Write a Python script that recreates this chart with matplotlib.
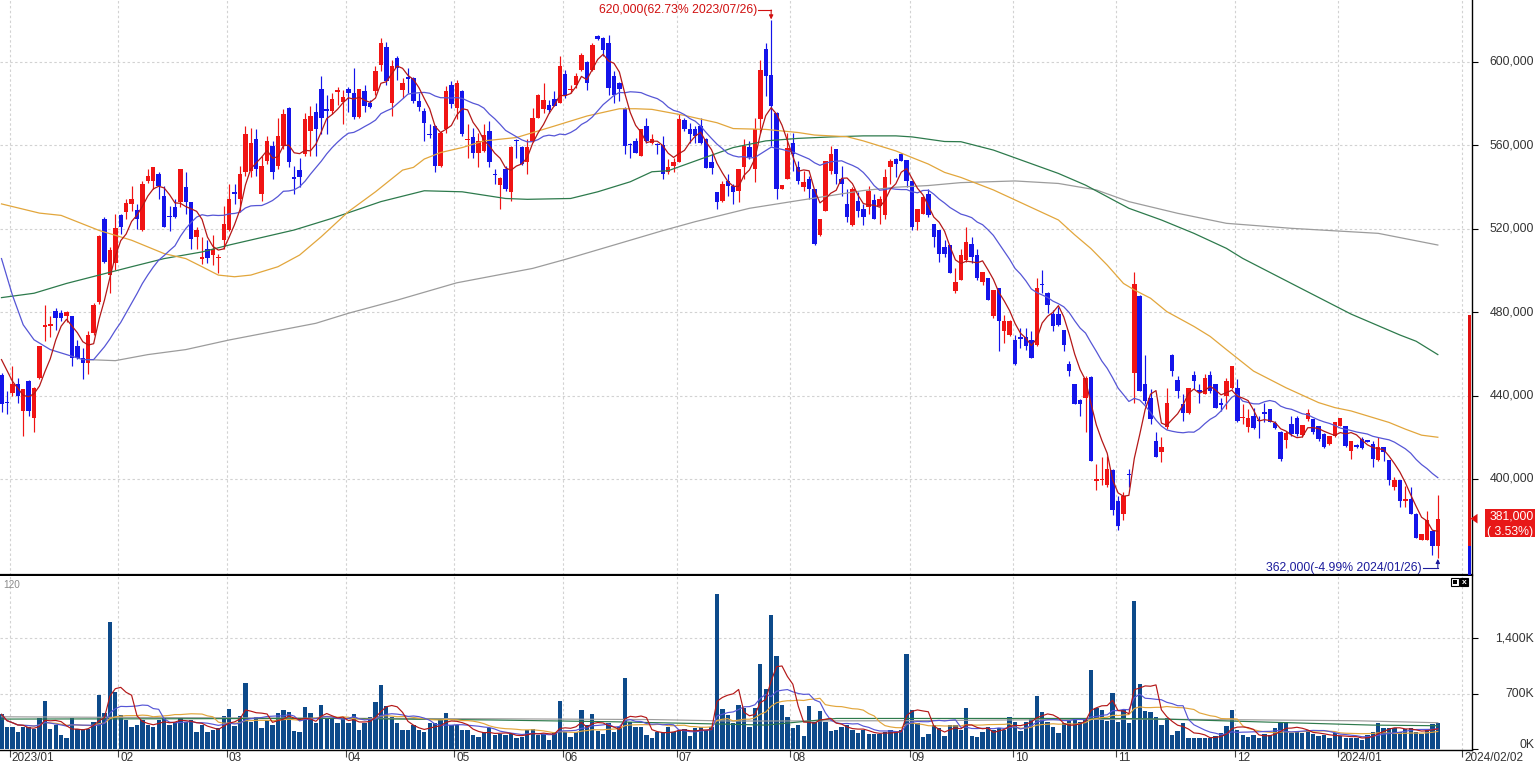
import numpy as np
import pandas as pd
import matplotlib
matplotlib.use('Agg')
import matplotlib.pyplot as plt
from matplotlib import font_manager as fm
from matplotlib.patches import Rectangle, Polygon
from matplotlib.transforms import blended_transform_factory, offset_copy

# ---------------- data (prices in thousand KRW, volume in K shares) ----------------
open_ = [
450, 437, 441.3, 445.3, 432.6, 446.9, 429.4, 448.5, 473, 473.5,
480.6, 479.5, 477.9, 477.9, 463.6, 458, 455.6, 469.9, 485, 524.7,
497.7, 503.3, 526.3, 527.9, 531.8, 529.1, 519.1, 543, 543, 546.1,
535.8, 525.5, 530.2, 532.6, 539.8, 532.6, 515.9, 505.6, 510, 507.2,
505.8, 514.4, 519.1, 537.4, 534, 546.9, 547.7, 562.8, 536.6, 552.5,
559.6, 550.1, 559.6, 577.9, 544.5, 548, 555.6, 566.7, 575.9, 586.9,
577, 576.3, 585.5, 580.7, 586.9, 585, 573.4, 586.1, 580.2, 585.8,
598.5, 607.2, 580.2, 601.7, 586.6, 592.5, 592.1, 581, 576.3, 565.5,
569.1, 550.1, 567.5, 588.6, 577.9, 586.1, 562.2, 564, 556.4, 557.2,
566.7, 546.2, 540.9, 548.5, 537.4, 562.2, 559.3, 551.7, 562, 573.1,
577.1, 579, 582.2, 580.2, 594, 586.3, 589, 596.1, 599.6, 596.1,
612.3, 611.2, 608.8, 592.9, 589.8, 577.9, 560.5, 562, 554.8, 569.1,
561.2, 560.3, 559.9, 546.9, 550.1, 551.7, 572, 567.8, 567.8, 569.1,
563.1, 552, 537.4, 533.4, 542.9, 540.6, 538.2, 549.3, 559.1, 548.5,
572.3, 606.1, 593.7, 575.5, 539, 543.7, 561.2, 549.3, 539.8, 543.7,
539, 516.7, 528.6, 547.7, 558, 543.7, 531.8, 521.5, 533.4, 529.4,
530.2, 533.7, 531, 526.3, 549.3, 553.2, 555.6, 552.8, 542.9, 523.1,
527, 536.6, 522.3, 519.1, 511.2, 512, 490, 495.3, 504.8, 512.8,
507.2, 494.5, 496.4, 477.9, 491.4, 470.7, 469.1, 466.8, 467.7, 467.9,
466.8, 464, 493.5, 489.3, 479, 479, 471.5, 455.2, 445.3, 437.7,
439, 448.8, 398.9, 399.4, 396.9, 404.4, 389.3, 383.4, 402.3, 450.9,
487.9, 445.3, 439, 418.3, 412.8, 424.7, 459.6, 447.2, 435.8, 431.8,
449.6, 442.6, 440.6, 449.6, 445.3, 436.6, 439.8, 443.7, 443.7, 429,
424.7, 430.2, 428.2, 431.9, 433.4, 426.6, 422.3, 418.8, 426.3, 429.1,
421.2, 428.6, 428.6, 425.5, 421.5, 416.7, 420.7, 425.5, 425.5, 413.6,
416.4, 419.1, 418.5, 416.7, 409.1, 415.2, 409.1, 396.1, 399.6, 389.6,
390.6, 383.4, 370.7, 371, 375.2, 368.1]

high = [
451, 442, 454, 448.5, 443, 447.5, 444, 463.8, 483.4, 478,
481.8, 481, 480.5, 478, 466.7, 462.8, 470.7, 484.2, 516.7, 525.4,
511.2, 527, 527, 534.2, 540.6, 531.8, 543, 548.5, 549.5, 547,
540.6, 531, 534.2, 548.5, 546.9, 532.6, 520.7, 516, 514.4, 516.7,
508, 531, 541.4, 541.4, 550, 569.1, 568.3, 567.5, 554.8, 564.4,
562, 573.1, 577.1, 578, 550, 554, 575.5, 578.7, 580.2, 592.9,
584, 585, 588, 586.6, 588, 596.9, 586.9, 589, 581.8, 597.7,
611.5, 609.6, 600.9, 602.5, 592.2, 596.9, 592.5, 585, 577.9, 570,
569.5, 566.7, 588.2, 590.6, 591.4, 586.5, 570, 568.3, 566, 569.9,
571.5, 548.5, 544.5, 550, 559.5, 562.8, 559.6, 562.8, 577.9, 584.5,
589.8, 581.8, 585.8, 602.5, 596.1, 589, 594.5, 604.1, 600.1, 608.8,
612.8, 612, 612.8, 595.3, 590, 578, 561.2, 563.6, 567.8, 573,
565.2, 561.2, 564.4, 553.2, 554, 574.7, 573.1, 570.7, 569.1, 573,
563.2, 555.6, 537.5, 542.9, 546.1, 541.4, 548.6, 562.8, 562, 573.1,
600.9, 608.8, 620, 575.6, 541, 565.9, 565.9, 552.5, 547.7, 545.3,
539.1, 524.8, 552.5, 559.6, 558.1, 550.1, 538.9, 539.7, 537.4, 531.8,
540.6, 536.6, 535.8, 548.5, 553.2, 554, 556.4, 552.9, 543, 529.5,
535.8, 538.9, 522.4, 519.2, 514.4, 512.1, 501, 510.4, 520.7, 515.9,
510.4, 499.3, 496.5, 490.6, 491.5, 478.7, 476.3, 469.1, 472.3, 472.3,
470.7, 496.1, 500.1, 489.4, 481, 482.6, 471.6, 456.4, 445.4, 438.2,
449.3, 449.3, 407.2, 410.4, 411.2, 404.8, 391.7, 393.7, 404.8, 499.3,
488, 459.6, 442.9, 422.3, 419.9, 443.7, 459.7, 449.3, 440.6, 443.4,
451.7, 445.3, 450.1, 451.7, 445.4, 439, 448.5, 454, 447.7, 435.8,
433.4, 434.2, 430.2, 436.6, 433.5, 427.9, 423.1, 423.1, 430.2, 430.2,
426, 433.4, 428.7, 425.6, 421.8, 420.7, 427.1, 429.1, 425.6, 418.4,
416.7, 419.9, 418.8, 418.3, 419.9, 415.5, 409.2, 400.9, 399.7, 396.6,
396.1, 383.5, 373.6, 384.7, 375.3, 392.1]

low = [
432, 431, 440, 436.6, 420.7, 430, 422.3, 448, 466, 468,
471.5, 475.5, 475, 454, 457.5, 447.7, 450.1, 469, 484, 503.3,
489, 500.1, 517.5, 524.7, 528.6, 519.9, 519, 542, 539, 534.2,
520.7, 519, 525, 530.2, 527, 510.4, 510.4, 503, 503.3, 502.5,
498.5, 510, 519, 531.8, 528, 545, 544.5, 545.3, 533.4, 550.9,
543.7, 548.5, 558, 549.3, 536.6, 539.8, 554.8, 554.8, 554.8, 565.2,
565.2, 574.7, 579.4, 569.9, 576, 572.3, 573, 576, 577.9, 584,
595.3, 589, 573.9, 591.4, 582.6, 585, 580, 576.3, 562, 563.5,
546.9, 549.3, 566, 577.9, 572.3, 564.4, 554, 554, 549.3, 556.5,
549.3, 541.4, 529.4, 538.2, 533.4, 554, 550.5, 546.1, 561.5, 572.8,
575.5, 575.5, 578.5, 580, 582.6, 585, 587.4, 595.3, 586.6, 595.3,
610.4, 602.5, 584.2, 580.2, 581, 555.6, 554, 556.4, 554.8, 561.2,
560.4, 555.6, 543.7, 546.1, 546.9, 551.7, 566.7, 561.2, 561.2, 560.4,
549, 546.1, 529.4, 532.9, 535.8, 531.8, 532.6, 543.7, 553.2, 542.1,
565.9, 583.4, 559.6, 534.2, 538.8, 543.5, 547.7, 541.4, 538.2, 534.2,
512, 516.6, 528.5, 546.1, 541.4, 535.8, 523.1, 521.4, 525.5, 521.5,
527, 524.7, 522.3, 524.7, 541.4, 544.5, 552.4, 539.8, 519.1, 519.1,
526.9, 525.5, 511.2, 504.1, 506.4, 498.5, 489, 495.2, 504, 503.3,
495.3, 492.9, 485.8, 477.1, 461.2, 465.2, 468.3, 454.8, 462.8, 462,
458, 463.9, 489, 479.5, 470.7, 473.1, 461.2, 449.3, 436.1, 430.2,
422.3, 408.8, 394.5, 396.9, 396.1, 382.6, 375.5, 380.2, 396.1, 436.6,
442.1, 435.8, 426.3, 410.4, 408, 423.9, 449.3, 439, 427.9, 431,
442.9, 436.6, 440.5, 441.4, 434.2, 432.6, 433.4, 442.9, 427.1, 426.3,
422.3, 423.9, 419.6, 427.1, 427.1, 423.9, 408.8, 414.8, 420.7, 420.7,
419.9, 427.9, 421.5, 418.3, 414.8, 416.4, 419.9, 425.4, 415.2, 409.6,
414.8, 414.4, 417.5, 405.6, 408.8, 408.8, 396.9, 394.5, 386.6, 386.6,
383.4, 371.5, 370.6, 371, 363.5, 362]

close = [
436, 436.5, 445.3, 439.8, 442.9, 432.6, 443.7, 463.6, 474, 474.2,
477.1, 477.1, 480.2, 458, 458, 455.6, 469.1, 483.4, 516.4, 504.1,
509.6, 520.2, 520.7, 532.3, 534.2, 524.7, 541.4, 545.3, 549.3, 540.6,
520.7, 525.3, 525.5, 548.5, 532.6, 515.2, 519.4, 506.3, 506, 510.4,
506.3, 522.3, 534.2, 536.4, 546.1, 565.2, 561.2, 548.5, 550.1, 562,
546.9, 564.4, 575, 551.7, 543.5, 544.8, 572.3, 573.9, 567.5, 573.1,
576.5, 582.3, 586.3, 583.1, 585, 573.4, 586.9, 578.7, 578.3, 595.3,
608.8, 590.6, 597.7, 596.9, 589.8, 591.8, 581, 578.3, 570.7, 564.9,
550.1, 566, 586.1, 579.8, 589.8, 565.5, 563, 556.4, 562, 564.8,
551.7, 545.8, 544, 539, 559.1, 561.8, 550.9, 559.3, 573.1, 584.2,
581.8, 576.7, 578.7, 597.7, 583.4, 586.8, 593.3, 603.3, 589.8, 608,
610.7, 605.6, 587.4, 584.2, 586.9, 559.6, 560, 556.4, 567.8, 562,
563.1, 559.9, 546.1, 549.3, 552, 572.3, 567.5, 565.2, 564.4, 561.2,
549, 549, 532.9, 541.4, 540.6, 537.4, 548.5, 559.6, 554.4, 567.5,
596.1, 592.9, 578.6, 539, 541, 558.8, 555.6, 542.9, 542.1, 539,
512.8, 524.7, 552.5, 555.6, 546.1, 541.4, 525.5, 538.9, 528.6, 525.5,
538.2, 524.7, 534.2, 544.8, 552.5, 550.9, 552.5, 542.9, 520.7, 529.4,
535.3, 526.3, 515.9, 508, 508, 498.5, 494.5, 507.2, 513.6, 506.4,
496.1, 499.3, 485.8, 490.6, 475.5, 475.5, 475.8, 455.2, 467.3, 463.6,
458, 491.7, 493.1, 483.4, 473.1, 473.9, 464.4, 451.7, 436.1, 436.1,
448.5, 408.8, 399.8, 399.8, 404.8, 385, 377.4, 391.7, 401.9, 493.3,
442.1, 437.4, 428.6, 410.4, 415.5, 436.6, 451.7, 442.1, 431.4, 443.4,
446.9, 441.6, 448.2, 442.1, 434.2, 435.5, 446.9, 454, 427.9, 429.6,
429.4, 424.4, 427.6, 431.2, 427.5, 424.4, 409.6, 422, 421.5, 421.5,
426, 431.8, 422.3, 419.1, 415.2, 420.7, 427.1, 429.1, 416, 418.3,
415.2, 414.8, 417.6, 409.6, 415.5, 412.8, 399.3, 399.6, 389.5, 390.2,
383.4, 371.8, 373.5, 380.5, 368, 381]

volume = [
440, 284, 284, 221, 284, 284, 255, 397, 607, 255,
305, 180, 138, 397, 255, 255, 255, 347, 682, 464,
1604, 724, 431, 368, 284, 305, 368, 305, 284, 368,
410, 305, 347, 397, 347, 368, 221, 305, 221, 242,
263, 422, 506, 297, 422, 833, 347, 406, 272, 368,
305, 460, 494, 473, 234, 213, 532, 460, 326, 557,
381, 389, 326, 381, 335, 439, 242, 326, 410, 594,
808, 540, 410, 326, 242, 242, 305, 242, 221, 326,
326, 368, 460, 305, 305, 242, 242, 180, 159, 221,
263, 180, 188, 180, 188, 146, 159, 242, 251, 180,
188, 117, 221, 607, 221, 159, 213, 494, 305, 444,
230, 188, 326, 221, 284, 900, 347, 284, 284, 180,
146, 221, 221, 284, 221, 242, 255, 171, 263, 284,
242, 284, 1952, 506, 431, 326, 557, 515, 284, 515,
1072, 758, 1688, 1177, 557, 410, 272, 305, 171, 544,
347, 481, 347, 234, 242, 284, 305, 242, 201, 242,
188, 188, 188, 221, 242, 221, 242, 1198, 494, 326,
159, 188, 305, 272, 167, 305, 305, 242, 515, 167,
150, 221, 284, 242, 263, 242, 410, 347, 230, 347,
389, 674, 473, 347, 284, 201, 326, 356, 368, 347,
381, 997, 523, 494, 360, 716, 347, 494, 326, 1876,
820, 481, 473, 410, 305, 389, 180, 234, 326, 146,
146, 146, 146, 146, 167, 201, 293, 494, 242, 180,
159, 180, 146, 188, 180, 263, 347, 347, 201, 230,
201, 242, 188, 167, 180, 138, 201, 167, 146, 146,
138, 117, 180, 221, 326, 272, 272, 263, 221, 255,
272, 213, 188, 242, 314, 335]

# moving-average readings where the chart needs history before the first candle
ma5_head_idx = [0, 2]
ma5_head = [457.2, 446.9]
ma20_head_idx = [0, 2, 4, 6, 9, 12, 15, 17]
ma20_head = [505.6, 488.2, 473.9, 466.7, 462.0, 459.6, 457.2, 457.2]

ma60_idx = [0, 7, 11, 18, 24, 30, 34, 37, 40, 43, 46, 51, 55, 59, 64, 69, 74, 76, 78, 81,
            85, 89, 95, 102, 108, 114, 117, 120, 126, 132, 135, 141, 147, 150, 156, 159, 162, 165, 168, 171,
            174, 177, 183, 189, 195, 198, 201, 204, 207, 209, 212, 215, 220, 223, 226, 231, 237, 243, 246, 249,
            256, 259, 262, 265]
ma60 = [531.8, 527.4, 526.3, 519.1, 514.4, 508, 505.6, 501.7, 497.7, 496.9, 497.7, 501.7, 507.3, 516.1, 528.1, 537.6, 548, 549.3, 553.3, 556.4,
        558.8, 562, 563.6, 569.1, 573.9, 577.4, 577.4, 577.1, 574.2, 570.7, 567.9, 567.5, 566, 564.8, 564, 562, 559.6, 557.2, 554, 550.9,
        546.9, 544.5, 538.5, 531.3, 524.1, 517, 510.4, 502.5, 493.7, 490.6, 486.6, 480.2, 473.1, 468.3, 462, 451.7, 443.7, 436.6, 434.2, 432.6,
        427.1, 423.9, 421, 420]

ma120_idx = [0, 6, 12, 18, 24, 30, 37, 42, 54, 61, 70, 78, 85, 93, 97, 105, 110, 116, 120, 123,
             129, 135, 141, 147, 153, 159, 165, 168, 174, 177, 183, 189, 195, 200, 208, 214, 220, 226, 229, 240,
             249, 258, 261, 265]
ma120 = [486.9, 489, 493.7, 497.7, 501.7, 505.6, 508.8, 512.1, 519.3, 524.9, 532.9, 538.1, 537.6, 534.4, 534, 534.4, 537.6, 542.4, 547.2, 547.7,
         553.3, 558.8, 562, 563.2, 563.9, 564.4, 564.4, 563.9, 561.7, 561.6, 557.6, 552, 546.4, 540.8, 529.7, 524.1, 517.7, 510.5, 505.7, 491,
         479, 469, 466, 459.6]

ma240_idx = [16, 21, 27, 34, 42, 58, 64, 73, 84, 98, 104, 113, 122, 128, 138, 147, 153, 159, 165, 171,
             177, 187, 195, 202, 208, 217, 226, 238, 254, 265]
ma240 = [457.2, 456.7, 459.6, 462, 466.6, 474.6, 479.4, 485.7, 494, 500.9, 505.2, 512.1, 519, 523.3, 529.7, 533.4, 535.8, 538.2, 539.8, 540.6,
         542, 542.8, 541.6, 538.5, 532.9, 527.3, 522.5, 520.1, 517.7, 512.1]

vma60_idx = [0, 30, 60, 90, 113, 135, 141, 154, 180, 206, 215, 230, 253, 265]
vma60 = [381, 385, 390, 370, 347, 315, 305, 389, 389, 389, 380, 350, 305, 297]
vma120_idx = [0, 30, 60, 90, 120, 135, 165, 210, 230, 250, 265]
vma120 = [410, 400, 392, 385, 375, 356, 360, 381, 372, 360, 335]

month_start_idx = [2, 22, 42, 64, 84, 104, 125, 146, 168, 187, 206, 228, 247, 270]
month_labels = ['2023/01', '02', '03', '04', '05', '06', '07', '08', '09', '10', '11', '12', '2024/01', '2024/02/02']
price_ticks = [400, 440, 480, 520, 560, 600]
vol_ticks = [0, 700, 1400]
vol_tick_labels = ['0K', '700K', '1,400K']
hi_date = '2023/07/26'
lo_date = '2024/01/26'
limit_pct = 30

# ---------------- style ----------------
W, H = 1538, 769
RED, BLUE = '#f01414', '#1414ea'
C_MA5, C_MA20, C_MA60, C_MA120, C_MA240 = '#b41818', '#5656d6', '#e2a63c', '#2d7a4c', '#9c9c9c'
VOL_C = '#0d4a8a'
GRID = '#d2d2d2'
TXT = '#333333'

names = {f.name for f in fm.fontManager.ttflist}
if 'Liberation Sans Narrow' in names:
    FONT, FS = 'Liberation Sans Narrow', 1.0
elif 'Liberation Sans' in names:
    FONT, FS = 'Liberation Sans', 0.85
else:
    FONT, FS = 'DejaVu Sans', 0.78
plt.rcParams['font.family'] = [FONT, 'DejaVu Sans']

fig = plt.figure(figsize=(W / 100, H / 100), dpi=100, facecolor='white')


def fx(px):
    return px / W


def fy(py):
    return 1 - py / H


AX_R = 1471.7
ax_p = fig.add_axes([0, fy(575), fx(AX_R), 575 / H])
ax_v = fig.add_axes([0, fy(750), fx(AX_R), (750 - 576) / H])

N = len(close)
idx = np.arange(N)
o = np.array(open_); h = np.array(high); l = np.array(low); c = np.array(close)
vol = np.array(volume, dtype=float)

XL = (-0.277, 271.25)
ax_p.set_xlim(*XL)
ax_v.set_xlim(*XL)
ax_p.set_ylim(354.0, 629.5)
ax_v.set_ylim(-8.8, 2185)

tick_pos = np.array(month_start_idx) - 0.45
dash = (0, (2.2, 2.2))
for ax in (ax_p, ax_v):
    for tp in tick_pos:
        ax.axvline(tp, color=GRID, lw=0.8, ls=dash, zorder=0)
for pt in price_ticks:
    ax_p.axhline(pt, color=GRID, lw=0.8, ls=dash, zorder=0)
for vt in vol_ticks[1:]:
    ax_v.axhline(vt, color=GRID, lw=0.8, ls=dash, zorder=0)

# ---------------- candles ----------------
up = c >= o
cols = np.where(up, RED, BLUE)
ax_p.vlines(idx, l, h, colors=cols, lw=0.85, zorder=2)
body_lo = np.minimum(o, c)
body_h = np.maximum(np.abs(c - o), 0.55)
ax_p.bar(idx, body_h, bottom=body_lo, width=0.82, color=cols, lw=0, zorder=2.1)

# ---------------- moving averages ----------------
cs = pd.Series(c)
m5 = cs.rolling(5).mean().to_numpy()
m20 = cs.rolling(20).mean().to_numpy()
ax_p.plot(ma240_idx, ma240, color=C_MA240, lw=0.9, zorder=3)
ax_p.plot(ma120_idx, ma120, color=C_MA120, lw=0.9, zorder=3)
ax_p.plot(ma60_idx, ma60, color=C_MA60, lw=0.9, zorder=3)
ax_p.plot(list(ma20_head_idx) + list(idx[19:]), list(ma20_head) + list(m20[19:]), color=C_MA20, lw=0.9, zorder=3)
ax_p.plot(list(ma5_head_idx) + list(idx[4:]), list(ma5_head) + list(m5[4:]), color=C_MA5, lw=0.9, zorder=3)

# ---------------- volume ----------------
ax_v.bar(idx, vol, width=0.8, color=VOL_C, lw=0, zorder=2)
vs = pd.Series(vol)
ax_v.plot(vma120_idx, vma120, color=C_MA240, lw=0.85, zorder=3)
ax_v.plot(vma60_idx, vma60, color=C_MA120, lw=0.85, zorder=3)
ax_v.plot(idx, vs.rolling(20, min_periods=1).mean(), color=C_MA60, lw=0.85, zorder=3)
ax_v.plot(idx, vs.rolling(10, min_periods=1).mean(), color=C_MA20, lw=0.85, zorder=3)
ax_v.plot(idx, vs.rolling(5, min_periods=1).mean(), color=C_MA5, lw=0.85, zorder=3)

# ---------------- axes styling ----------------
for ax in (ax_p, ax_v):
    ax.set_facecolor('white')
    ax.spines['left'].set_visible(False)
    ax.spines['right'].set_color('black')
    ax.spines['right'].set_linewidth(1.0)
ax_p.spines['top'].set_visible(False)
ax_p.spines['bottom'].set_color('black')
ax_p.spines['bottom'].set_linewidth(1.6)
ax_v.spines['top'].set_visible(False)
ax_v.spines['bottom'].set_color('black')
ax_v.spines['bottom'].set_linewidth(1.0)

ax_p.tick_params(axis='x', bottom=False, labelbottom=False)
ax_p.yaxis.tick_right()
ax_p.set_yticks(price_ticks)
ax_p.tick_params(axis='y', right=True, left=False, labelright=False, labelleft=False,
                 length=4, width=0.8, color='black', direction='out')
ax_v.yaxis.tick_right()
ax_v.set_yticks(vol_ticks)
ax_v.tick_params(axis='y', right=True, left=False, labelright=False, labelleft=False,
                 length=4, width=0.8, color='black', direction='out')
ax_v.set_xticks(tick_pos)
ax_v.tick_params(axis='x', bottom=True, labelbottom=False, length=5, width=0.8, color='#444444', direction='out')

tr_py = blended_transform_factory(fig.transFigure, ax_p.transData)
tr_vy = blended_transform_factory(fig.transFigure, ax_v.transData)
for pt in price_ticks:
    ax_p.text(fx(1534), pt, f'{pt * 1000:,.0f}', transform=tr_py, ha='right', va='center',
              fontsize=10.4 * FS, color=TXT, clip_on=False)
vol_label_y = [54, 700, 1400]
for vy, vl in zip(vol_label_y, vol_tick_labels):
    ax_v.text(fx(1534), vy, vl, transform=tr_vy, ha='right', va='center',
              fontsize=10.4 * FS, color=TXT, clip_on=False)

tr_x = offset_copy(blended_transform_factory(ax_v.transData, fig.transFigure), fig=fig, x=2, y=0, units='dots')
for tp, lab in zip(tick_pos, month_labels):
    ax_v.text(tp, fy(758), lab, transform=tr_x, ha='left', va='center', fontsize=10.0 * FS,
              color=TXT, clip_on=False)

# ---------------- annotations ----------------
k_hi = int(np.argmax(h)); v_hi = h[k_hi]
k_lo = int(np.argmin(l)); v_lo = l[k_lo]
last = c[-1]; prev = c[-2]
pct_hi = (v_hi / last - 1) * 100
pct_lo = (v_lo / last - 1) * 100
chg = (last / prev - 1) * 100

y_top = 624.7
ax_p.text(k_hi - 2.6, y_top, f'{v_hi * 1000:,.0f}({pct_hi:.2f}% {hi_date})', ha='right', va='center',
          fontsize=10.4 * FS, color='#d01010', zorder=5)
ax_p.plot([k_hi - 2.45, k_hi], [y_top, y_top], color='#d01010', lw=0.8, zorder=5)
ax_p.annotate('', xy=(k_hi, v_hi + 0.2), xytext=(k_hi, y_top),
              arrowprops=dict(arrowstyle='-|>', color='#d01010', lw=0.8, mutation_scale=6, shrinkA=0, shrinkB=0))

y_bot = 357.4
ax_p.text(k_lo - 2.9, y_bot, f'{v_lo * 1000:,.0f}({pct_lo:.2f}% {lo_date})', ha='right', va='center',
          fontsize=10.4 * FS, color='#1c1c9c', zorder=5)
ax_p.plot([k_lo - 2.7, k_lo], [y_bot, y_bot], color='#1c1c9c', lw=0.8, zorder=5)
ax_p.annotate('', xy=(k_lo, v_lo - 0.3), xytext=(k_lo, y_bot),
              arrowprops=dict(arrowstyle='-|>', color='#1c1c9c', lw=0.8, mutation_scale=6, shrinkA=0, shrinkB=0))

# price-limit range bar at the right edge
up_lim = prev * (1 + limit_pct / 100)
dn_lim = prev * (1 - limit_pct / 100)
ax_p.add_patch(Rectangle((fx(1467.6), prev), fx(3.2), up_lim - prev, transform=tr_py,
                         color='#e01010', lw=0, zorder=4, clip_on=False))
ax_p.add_patch(Rectangle((fx(1467.6), dn_lim), fx(3.2), prev - dn_lim, transform=tr_py,
                         color='#1010e0', lw=0, zorder=4, clip_on=True))

# current price marker and box
ax_p.add_patch(Polygon([(fx(1470.5), last), (fx(1477.5), last + 2.3), (fx(1477.5), last - 2.3)],
                       closed=True, transform=tr_py, color='#e01010', lw=0, clip_on=False, zorder=6))
ax_p.add_patch(Rectangle((fx(1485), last - 8.9), fx(50), 13.7, transform=tr_py,
                         color='#e81818', lw=0, clip_on=False, zorder=6))
ax_p.text(fx(1533.5), last + 1.0, f'{last * 1000:,.0f}', transform=tr_py, ha='right', va='center',
          fontsize=10.4 * FS, color='white', clip_on=False, zorder=7)
ax_p.text(fx(1533.5), last - 6.2, f'( {chg:.2f}%)', transform=tr_py, ha='right', va='center',
          fontsize=10.4 * FS, color='white', clip_on=False, zorder=7)

# volume panel caption and icons
fig.text(fx(3), fy(585.5), '120', ha='left', va='center', fontsize=8.5 * FS, color='#8a8a8a')
fig.patches.append(Rectangle((fx(1451), fy(586)), fx(8), 8 / H, transform=fig.transFigure,
                             facecolor='white', edgecolor='black', lw=0.8))
fig.patches.append(Rectangle((fx(1453.3), fy(583.8)), fx(3.5), 3.5 / H, transform=fig.transFigure,
                             facecolor='black', edgecolor='none'))
fig.patches.append(Rectangle((fx(1460), fy(586)), fx(8), 8 / H, transform=fig.transFigure,
                             facecolor='black', edgecolor='black', lw=0.8))
fig.text(fx(1464), fy(582), 'x', ha='center', va='center', fontsize=6, color='white', fontweight='bold')

fig.savefig('out.png', dpi=100, facecolor='white')
